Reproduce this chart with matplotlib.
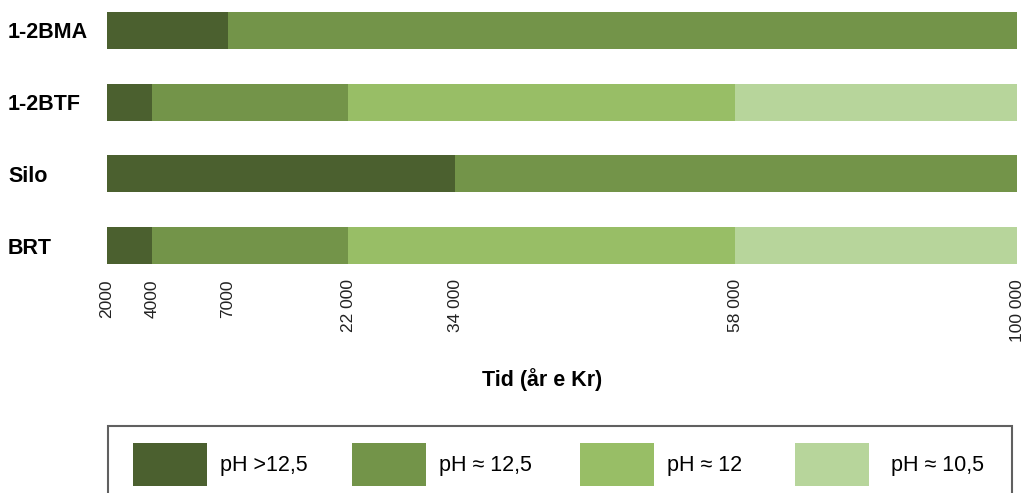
import numpy as np
from matplotlib import pyplot as plt
from matplotlib import transforms
from matplotlib.patches import Patch, Rectangle

plt.rcParams['font.family'] = ['Liberation Sans', 'DejaVu Sans']

# ---------------------------------------
# Data
# ---------------------------------------
categories = ['1-2BMA', '1-2BTF', 'Silo', 'BRT']
phases = ['pH >12,5', 'pH \u2248 12,5', 'pH \u2248 12', 'pH \u2248 10,5']
colors = ['#4b602f', '#739449', '#98be66', '#b7d59b']

start_year = 2000
# end year of each phase per category (same as previous end = phase absent)
phase_ends = {
    '1-2BMA': [7000, 100000, 100000, 100000],
    '1-2BTF': [4000, 22000, 58000, 100000],
    'Silo':   [34000, 100000, 100000, 100000],
    'BRT':    [4000, 22000, 58000, 100000],
}

tick_years = [2000, 4000, 7000, 22000, 34000, 58000, 100000]
tick_labels = ['2000', '4000', '7000', '22 000', '34 000', '58 000', '100 000']
# the axis in the original is not linear: relative spacing of the ticks
tick_pos = [0, 45, 121, 241, 348, 628, 910]


def fwd(x):
    return np.interp(x, tick_years, tick_pos)


def inv(x):
    return np.interp(x, tick_pos, tick_years)


W, H = 1022, 493

# ---------------------------------------
# Plot
# ---------------------------------------
fig = plt.figure(figsize=(W / 100, H / 100), dpi=100)
ax = fig.add_axes([107 / W, 1 - 264 / H, 910 / W, 252 / H])
ax.set_xscale('function', functions=(fwd, inv))

ypos = np.arange(len(categories))
for y, cat in zip(ypos, categories):
    left = start_year
    for i, end in enumerate(phase_ends[cat]):
        if end > left:
            ax.barh(y, end - left, left=left, height=0.514, color=colors[i], linewidth=0)
        left = end

ax.set_xlim(2000, 100000)
ax.set_ylim(len(categories) - 1 + 0.257, -0.257)
ax.set_yticks([])
ax.set_xticks(tick_years)
ax.set_xticklabels(tick_labels, rotation=90, fontsize=12.5, color='#222222')
ax.xaxis.set_minor_locator(plt.NullLocator())
ax.tick_params(axis='both', length=0)
ax.tick_params(axis='x', pad=11)
for s in ax.spines.values():
    s.set_visible(False)

# category names, left aligned near the figure edge
trans = transforms.blended_transform_factory(fig.transFigure, ax.transData)
for y, cat in zip(ypos, categories):
    ax.text(8 / W, y + 0.035, cat, transform=trans, fontsize=15.5, fontweight='bold',
            ha='left', va='center')

fig.text(542 / W, 1 - 380 / H, 'Tid (år e Kr)', fontsize=15.5, fontweight='bold',
         ha='center', va='center')

# ---------------------------------------
# Legend: one entry per slot, frame drawn separately (cut at the bottom)
# ---------------------------------------
fig.patches.append(Rectangle((108 / W, -10 / H), 904 / W, (H - 426 + 10) / H,
                             transform=fig.transFigure, facecolor='none',
                             edgecolor='#606060', linewidth=1.5))
slot_x = [133, 352, 580, 795]
text_pad = [0.6, 0.6, 0.6, 1.0]
fs_px = 15.5 * 100 / 72
for i, (c, lab) in enumerate(zip(colors, phases)):
    fig.legend([Patch(facecolor=c, edgecolor='none')], [lab], loc='upper left',
               bbox_to_anchor=(slot_x[i] / W, 1 - 443 / H), borderaxespad=0,
               borderpad=0, fontsize=15.5, handlelength=74 / fs_px,
               handleheight=(43 / fs_px - 0.245) / 0.65, handletextpad=text_pad[i],
               frameon=False)

plt.savefig('out.png', dpi=100)
